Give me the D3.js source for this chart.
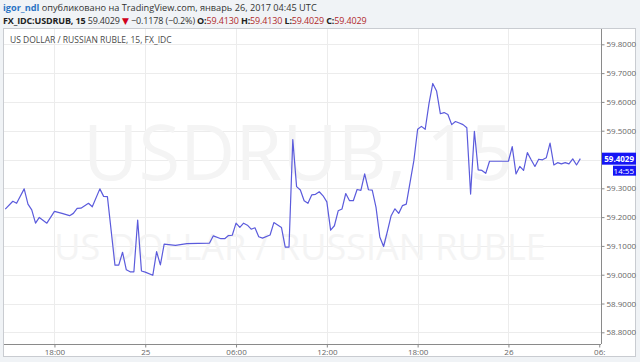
<!DOCTYPE html>
<html>
<head>
<meta charset="utf-8">
<script src="https://cdn.jsdelivr.net/npm/d3@7"></script>
<style>
  html, body { margin: 0; padding: 0; background: #f0f3f6; }
  svg { display: block; font-family: "Open Sans", "DejaVu Sans", sans-serif; }
</style>
</head>
<body>
<div id="chart"></div>
<script>
// 15 min bars, USDRUB (UTC), vertices
const times = [
  '2017-01-24 14:45','2017-01-24 15:15','2017-01-24 15:30','2017-01-24 16:00','2017-01-24 16:15',
  '2017-01-24 16:30','2017-01-24 16:45','2017-01-24 17:00','2017-01-24 17:30','2017-01-24 18:00',
  '2017-01-24 18:30','2017-01-24 19:00','2017-01-24 19:15','2017-01-24 19:30','2017-01-24 19:45',
  '2017-01-24 20:15','2017-01-24 20:30','2017-01-24 21:00','2017-01-24 21:15','2017-01-24 21:30',
  '2017-01-24 22:00','2017-01-24 22:15','2017-01-24 22:30','2017-01-24 22:45','2017-01-24 23:00',
  '2017-01-24 23:15','2017-01-24 23:30','2017-01-24 23:45','2017-01-25 00:00','2017-01-25 00:30',
  '2017-01-25 00:45','2017-01-25 01:00','2017-01-25 01:15','2017-01-25 02:00','2017-01-25 02:45',
  '2017-01-25 04:15','2017-01-25 04:30','2017-01-25 05:00','2017-01-25 05:15','2017-01-25 05:30',
  '2017-01-25 05:45','2017-01-25 06:00','2017-01-25 06:15','2017-01-25 06:30','2017-01-25 06:45',
  '2017-01-25 07:00','2017-01-25 07:15','2017-01-25 07:30','2017-01-25 07:45','2017-01-25 08:15',
  '2017-01-25 08:30','2017-01-25 09:00','2017-01-25 09:15','2017-01-25 09:30','2017-01-25 09:45',
  '2017-01-25 10:00','2017-01-25 10:15','2017-01-25 10:30','2017-01-25 10:45','2017-01-25 11:00',
  '2017-01-25 11:15','2017-01-25 11:30','2017-01-25 11:45','2017-01-25 12:00','2017-01-25 12:15',
  '2017-01-25 12:30','2017-01-25 12:45','2017-01-25 13:00','2017-01-25 13:15','2017-01-25 13:30',
  '2017-01-25 13:45','2017-01-25 14:00','2017-01-25 14:15','2017-01-25 14:30','2017-01-25 14:45',
  '2017-01-25 15:00','2017-01-25 15:15','2017-01-25 15:30','2017-01-25 15:45','2017-01-25 16:00',
  '2017-01-25 16:15','2017-01-25 16:30','2017-01-25 16:45','2017-01-25 17:00','2017-01-25 17:15',
  '2017-01-25 17:45','2017-01-25 18:00','2017-01-25 18:15','2017-01-25 18:30','2017-01-25 18:45',
  '2017-01-25 19:00','2017-01-25 19:15','2017-01-25 19:30','2017-01-25 19:45','2017-01-25 20:00',
  '2017-01-25 20:15','2017-01-25 20:30','2017-01-25 20:45','2017-01-25 21:00','2017-01-25 21:15',
  '2017-01-25 21:30','2017-01-25 21:45','2017-01-25 22:00','2017-01-25 22:15','2017-01-25 22:30',
  '2017-01-25 22:45','2017-01-26 00:00','2017-01-26 00:15','2017-01-26 00:30','2017-01-26 00:45',
  '2017-01-26 01:00','2017-01-26 01:15','2017-01-26 01:30','2017-01-26 01:45','2017-01-26 02:00',
  '2017-01-26 02:15','2017-01-26 02:30','2017-01-26 02:45','2017-01-26 03:00','2017-01-26 03:15',
  '2017-01-26 03:30','2017-01-26 03:45','2017-01-26 04:00','2017-01-26 04:15','2017-01-26 04:30',
  '2017-01-26 04:45'
]
const closes = [
  59.228,59.255,59.248,59.298,59.245,
  59.225,59.179,59.199,59.179,59.220,
  59.213,59.205,59.213,59.230,59.231,
  59.248,59.236,59.298,59.272,59.271,
  59.033,59.033,59.078,59.017,59.010,
  59.010,59.190,59.013,59.009,58.998,
  59.080,59.034,59.106,59.102,59.108,
  59.110,59.135,59.125,59.125,59.136,
  59.137,59.179,59.164,59.179,59.172,
  59.158,59.163,59.132,59.127,59.138,
  59.181,59.164,59.096,59.096,59.469,
  59.306,59.294,59.257,59.248,59.277,
  59.279,59.288,59.274,59.253,59.155,
  59.170,59.222,59.228,59.282,59.257,
  59.257,59.296,59.293,59.350,59.295,
  59.294,59.234,59.131,59.098,59.150,
  59.205,59.229,59.213,59.240,59.245,
  59.396,59.505,59.515,59.505,59.594,
  59.664,59.638,59.559,59.563,59.556,
  59.521,59.532,59.527,59.521,59.510,
  59.280,59.498,59.364,59.362,59.352,
  59.394,59.394,59.445,59.350,59.376,
  59.362,59.424,59.399,59.376,59.401,
  59.399,59.406,59.457,59.381,59.389,
  59.385,59.389,59.385,59.402,59.381,
  59.4029
]
const priceTicks = [58.8, 58.9, 59.0, 59.1, 59.2, 59.3, 59.4, 59.5, 59.6, 59.7, 59.8]
const timeTicks = ['2017-01-24 18:00','2017-01-25 00:00','2017-01-25 06:00','2017-01-25 12:00','2017-01-25 18:00','2017-01-26 00:00','2017-01-26 06:00']
const timeTickLabels = ['18:00', '25', '06:00', '12:00', '18:00', '26', '06:']
const lastPrice = 59.4029
const lastLabel = '59.4029'
const countdown = '14:55'

const W = 640, H = 362
const parse = d3.utcParse('%Y-%m-%d %H:%M')
const data = times.map((t, i) => ({ t: parse(t), v: closes[i] }))

const plot = { left: 4, right: 601, top: 29, bottom: 344 }

const x = d3.scaleUtc()
  .domain([parse('2017-01-24 14:40'), parse('2017-01-26 06:07')])
  .range([plot.left, plot.right])
const y = d3.scaleLinear()
  .domain([58.7594, 59.8497])
  .range([plot.bottom, plot.top + 1])

const svg = d3.select('#chart').append('svg')
  .attr('width', W).attr('height', H)

// header
const h1 = svg.append('text').attr('x', 3).attr('y', 11).style('font-size', '9.2px')
h1.append('tspan').attr('fill', '#2a74c4').attr('font-weight', 'bold').text('igor_ndl')
h1.append('tspan').attr('fill', '#333').text(' опубликовано на TradingView.com, январь 26, 2017 04:45 UTC')

const h2 = svg.append('text').attr('x', 3).attr('y', 24).style('font-size', '9px')
  .style('letter-spacing', '-0.15px')
h2.append('tspan').attr('fill', '#222').attr('font-weight', 'bold').text('FX_IDC:USDRUB, 15')
h2.append('tspan').attr('fill', '#333').text(' 59.4029 ')
h2.append('tspan').attr('fill', '#d0021b').text('▼')
h2.append('tspan').attr('fill', '#333').text(' −0.1178 (−0.2%) ')
const ohlc = [['O:', '59.4130'], ['H:', '59.4130'], ['L:', '59.4029'], ['C:', '59.4029']]
ohlc.forEach((d, i) => {
  h2.append('tspan').attr('fill', '#222').attr('font-weight', 'bold').text((i ? ' ' : '') + d[0])
  h2.append('tspan').attr('fill', '#b0292b').text(d[1])
})

// panel
svg.append('rect')
  .attr('x', 3.5).attr('y', 28.5).attr('width', 632).attr('height', 328)
  .attr('fill', '#fff').attr('stroke', '#c9ccd1')

// grid
svg.append('g').selectAll('line').data(priceTicks).join('line')
  .attr('x1', plot.left).attr('x2', plot.right)
  .attr('y1', d => Math.round(y(d)) + 0.5).attr('y2', d => Math.round(y(d)) + 0.5)
  .attr('stroke', '#ececec')
svg.append('g').selectAll('line').data(timeTicks.slice(0, -1)).join('line')
  .attr('x1', d => Math.round(x(parse(d))) + 0.5).attr('x2', d => Math.round(x(parse(d))) + 0.5)
  .attr('y1', plot.top).attr('y2', plot.bottom)
  .attr('stroke', '#ececec')

// watermark
svg.append('text').attr('x', 298).attr('y', 180).attr('text-anchor', 'middle')
  .style('font-size', '76px').attr('fill', '#f4f4f4').text('USDRUB, 15')
svg.append('text').attr('x', 300).attr('y', 260).attr('text-anchor', 'middle')
  .style('font-size', '36px').attr('fill', '#f4f4f4').text('US DOLLAR / RUSSIAN RUBLE')

svg.append('text').attr('x', 10).attr('y', 43)
  .style('font-size', '8.5px').attr('fill', '#4a4a4a')
  .text('US DOLLAR / RUSSIAN RUBLE, 15, FX_IDC')

// price line
svg.append('clipPath').attr('id', 'clip').append('rect')
  .attr('x', plot.left).attr('y', plot.top).attr('width', plot.right - plot.left).attr('height', plot.bottom - plot.top)
const line = d3.line().x(d => x(d.t)).y(d => y(d.v))
svg.append('path').datum(data)
  .attr('clip-path', 'url(#clip)')
  .attr('d', line)
  .attr('fill', 'none').attr('stroke', '#5b5bdc').attr('stroke-width', 1.2)
  .attr('stroke-linejoin', 'round')

// right axis (the 59.4 label sits under the last-price box)
const yAxis = svg.append('g').attr('transform', `translate(${plot.right + 0.5},0)`)
  .call(d3.axisRight(y).tickValues(priceTicks.filter(d => Math.abs(d - lastPrice) > 0.03))
    .tickFormat(d3.format('.4f')).tickSize(3).tickPadding(2))
yAxis.select('.domain').attr('stroke', '#8a8a8a').attr('d', `M0,${plot.top}V${plot.bottom}`)
yAxis.selectAll('.tick line').attr('stroke', '#8a8a8a')
yAxis.selectAll('.tick text').attr('fill', '#666').style('font-size', '8px')
  .style('font-family', '"Open Sans", sans-serif')

// bottom axis
const xAxis = svg.append('g').attr('transform', `translate(0,${plot.bottom + 0.5})`)
  .call(d3.axisBottom(x).tickValues(timeTicks.map(parse))
    .tickFormat((d, i) => timeTickLabels[i]).tickSize(3).tickPadding(2))
xAxis.select('.domain').attr('stroke', '#8a8a8a').attr('d', `M${plot.left},0H${plot.right}`)
xAxis.selectAll('.tick line').attr('stroke', '#8a8a8a')
xAxis.selectAll('.tick text').attr('fill', '#666').style('font-size', '8px')
  .style('font-family', '"Open Sans", sans-serif')

// last price labels
const ly = y(lastPrice)
svg.append('rect').attr('x', plot.right + 1).attr('y', ly - 6).attr('width', 34).attr('height', 12)
  .attr('fill', '#1515f5')
svg.append('text').attr('x', plot.right + 33).attr('y', ly + 3).attr('text-anchor', 'end')
  .style('font-size', '8px').attr('font-weight', 'bold').attr('fill', '#fff').text(lastLabel)
svg.append('rect').attr('x', plot.right + 12).attr('y', ly + 7).attr('width', 23).attr('height', 10)
  .attr('fill', '#1515f5')
svg.append('text').attr('x', plot.right + 33).attr('y', ly + 15).attr('text-anchor', 'end')
  .style('font-size', '8px').attr('fill', '#fff').text(countdown)
</script>
</body>
</html>
